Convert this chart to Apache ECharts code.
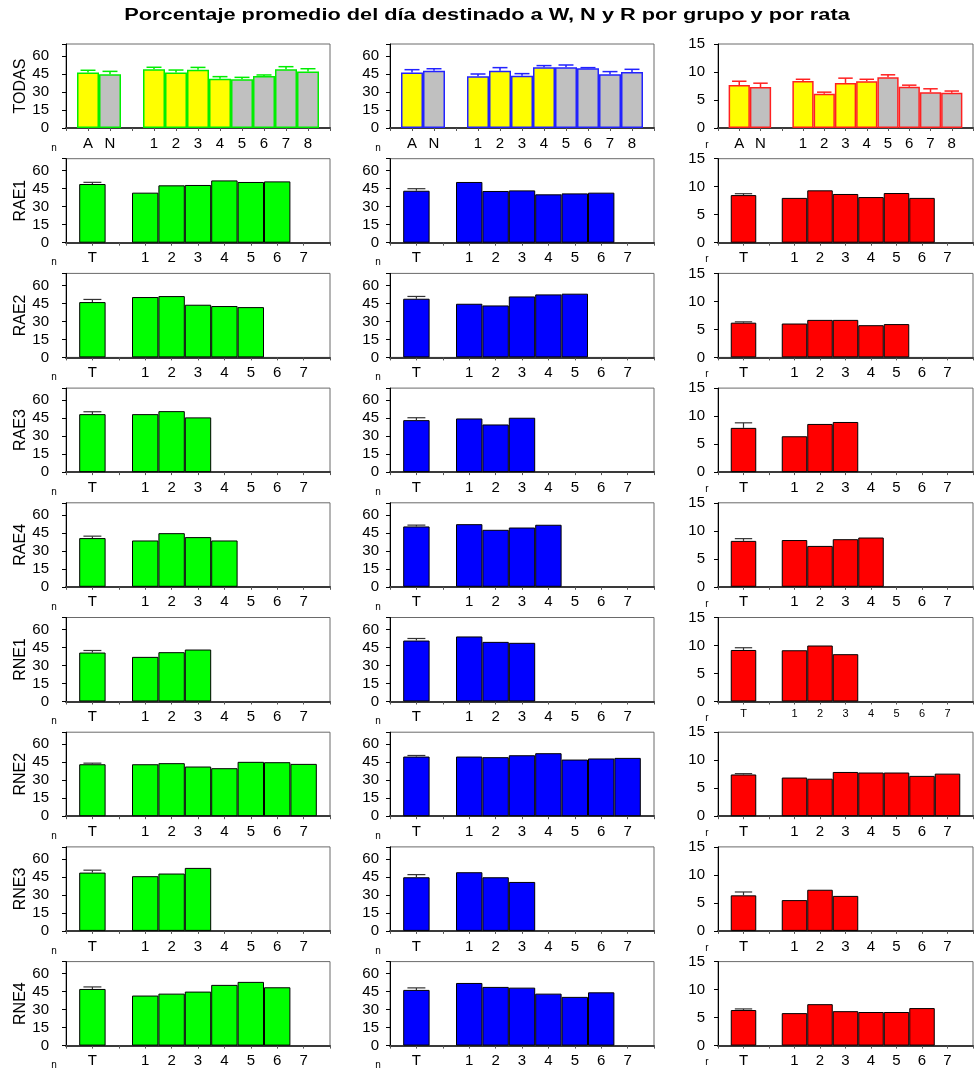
<!DOCTYPE html>
<html>
<head>
<meta charset="utf-8">
<script src="https://cdn.jsdelivr.net/npm/echarts@6/dist/echarts.min.js"></script>
<style>
  html, body { margin: 0; padding: 0; background: #fff; }
  #main { width: 974px; height: 1076px; }
</style>
</head>
<body>
<div id="main"></div>
<script>
// ---- Category labels ----
const rowNames = ['TODAS', 'RAE1', 'RAE2', 'RAE3', 'RAE4', 'RNE1', 'RNE2', 'RNE3', 'RNE4'];
const todasLabels = ['A', 'N', '', '1', '2', '3', '4', '5', '6', '7', '8'];
const ratLabels = ['T', '', '1', '2', '3', '4', '5', '6', '7'];
const todasIsA = [true, false, true, true, true, true, false, false, false, false]; // A, N, 1..8

// ---- W (vigilia) ----
const W_TODAS = [46.2, 44.8, 48.9, 46.2, 48.6, 41.1, 40.6, 43.3, 48.9, 47.0];
const W_TODAS_err = [1.9, 2.4, 1.7, 2.1, 1.9, 1.7, 1.6, 0.9, 2.2, 2.4];
const W_T = [48.9, 46.1, 48.3, 40.6, 40.8, 43.3, 48.6, 47.2];
const W_T_err = [1.4, 2.2, 2.0, 1.6, 1.7, 0.9, 2.0, 1.7];
const W_RAE1 = [41.7, 47.8, 48.1, 51.9, 50.6, 51.1];
const W_RAE2 = [50.3, 51.1, 43.9, 42.8, 41.9];
const W_RAE3 = [48.3, 50.8, 45.6];
const W_RAE4 = [38.6, 44.7, 41.4, 38.6];
const W_RNE1 = [37.2, 41.1, 43.3];
const W_RNE2 = [43.3, 44.2, 41.4, 40.0, 45.3, 45.0, 43.6];
const W_RNE3 = [45.6, 47.8, 52.5];
const W_RNE4 = [41.7, 43.3, 45.0, 50.6, 53.1, 48.6];

// ---- N (sueño no REM) ----
const N_TODAS = [46.2, 47.8, 43.1, 47.8, 43.6, 50.6, 50.6, 49.7, 44.7, 46.7];
const N_TODAS_err = [2.4, 1.6, 1.9, 2.5, 1.7, 1.4, 1.9, 0.6, 2.3, 2.2];
const N_T = [43.3, 48.9, 43.3, 50.3, 50.8, 49.7, 44.7, 46.4];
const N_T_err = [1.7, 1.9, 2.0, 1.1, 1.7, 0.9, 2.2, 1.7];
const N_RAE1 = [50.6, 43.1, 43.6, 40.3, 41.1, 41.7];
const N_RAE2 = [44.7, 43.3, 50.8, 52.5, 53.1];
const N_RAE3 = [44.7, 39.7, 45.3];
const N_RAE4 = [52.2, 47.5, 49.4, 51.7];
const N_RNE1 = [54.2, 49.7, 48.9];
const N_RNE2 = [49.7, 49.2, 50.8, 52.5, 47.2, 48.1, 48.6];
const N_RNE3 = [48.9, 44.7, 40.8];
const N_RNE4 = [52.2, 48.9, 48.3, 43.3, 40.6, 44.4];

// ---- R (sueño REM) ----
const R_TODAS = [7.7, 7.3, 8.4, 6.1, 8.05, 8.35, 9.05, 7.35, 6.4, 6.3];
const R_TODAS_err = [0.65, 0.7, 0.3, 0.3, 0.85, 0.35, 0.45, 0.3, 0.6, 0.3];
const R_T = [8.5, 6.2, 7.9, 8.2, 9.2, 7.45, 6.35, 6.35];
const R_T_err = [0.25, 0.15, 0.9, 0.4, 0.4, 0.15, 0.6, 0.2];
const R_RAE1 = [8.0, 9.35, 8.7, 8.15, 8.87, 8.0];
const R_RAE2 = [6.05, 6.7, 6.7, 5.75, 5.95];
const R_RAE3 = [6.4, 8.6, 8.95];
const R_RAE4 = [8.35, 7.3, 8.5, 8.8];
const R_RNE1 = [9.15, 10.0, 8.45];
const R_RNE2 = [6.9, 6.7, 7.9, 7.8, 7.8, 7.2, 7.6];
const R_RNE3 = [5.5, 7.35, 6.25];
const R_RNE4 = [5.8, 7.4, 6.15, 6.0, 6.0, 6.7];

// ---- Assemble per-variable tables ----
const variables = [
  { todas: W_TODAS, todasErr: W_TODAS_err, T: W_T, Terr: W_T_err,
    groups: [W_RAE1, W_RAE2, W_RAE3, W_RAE4, W_RNE1, W_RNE2, W_RNE3, W_RNE4],
    fill: '#00ff00', edge: '#00ee00', max: 70, step: 15, top: 60, letter: 'n', labelMargin: 17 },
  { todas: N_TODAS, todasErr: N_TODAS_err, T: N_T, Terr: N_T_err,
    groups: [N_RAE1, N_RAE2, N_RAE3, N_RAE4, N_RNE1, N_RNE2, N_RNE3, N_RNE4],
    fill: '#0000ff', edge: '#2222ff', max: 70, step: 15, top: 60, letter: 'n', labelMargin: 11 },
  { todas: R_TODAS, todasErr: R_TODAS_err, T: R_T, Terr: R_T_err,
    groups: [R_RAE1, R_RAE2, R_RAE3, R_RAE4, R_RNE1, R_RNE2, R_RNE3, R_RNE4],
    fill: '#ff0000', edge: '#ff2020', max: 15, step: 5, top: 15, letter: 'r', labelMargin: 13 }
];

// ---- Layout ----
const cols = [ { left: 66, width: 264 }, { left: 390, width: 264 }, { left: 718, width: 255 } ];
const rowTop = i => 44 + 114.7 * i;
const panelH = 84;
const FONT = 'Liberation Sans, Arial, Helvetica, sans-serif';

const grids = [], xAxes = [], yAxes = [], series = [], graphics = [];

graphics.push({
  type: 'text', x: 487, y: 16, scaleX: 1.36,
  style: { text: 'Porcentaje promedio del día destinado a W, N y R por grupo y por rata',
           font: 'bold 16px ' + FONT, fill: '#000', align: 'center', verticalAlign: 'middle' }
});

function errorSeries(k, data, color, width) {
  return {
    type: 'custom', xAxisIndex: k, yAxisIndex: k, z: 5, silent: true,
    data: data,
    renderItem: function (params, api) {
      const x = api.value(0), m = api.value(1), e = api.value(2);
      const pTop = api.coord([x, m + e]);
      const pBase = api.coord([x, m]);
      const hw = api.size([1, 0])[0] * 0.34;
      return {
        type: 'group',
        children: [
          { type: 'line', shape: { x1: pTop[0], y1: pTop[1], x2: pBase[0], y2: pBase[1] },
            style: { stroke: color, lineWidth: width } },
          { type: 'line', shape: { x1: pTop[0] - hw, y1: pTop[1], x2: pTop[0] + hw, y2: pTop[1] },
            style: { stroke: color, lineWidth: width } }
        ]
      };
    }
  };
}

for (let r = 0; r < 9; r++) {
  for (let c = 0; c < 3; c++) {
    const k = grids.length;
    const v = variables[c];
    const col = cols[c];
    const top = rowTop(r);
    const labels = r === 0 ? todasLabels : ratLabels;
    const nSlots = labels.length;
    const slotPx = col.width / (nSlots + 1);

    grids.push({ left: col.left, top: top, width: col.width, height: panelH,
                 show: true, borderColor: '#6a6a6a', borderWidth: 1, outerBoundsMode: 'none' });

    const smallLabels = (r === 5 && c === 2);
    xAxes.push({
      type: 'value', gridIndex: k, min: -1, max: nSlots, interval: 1,
      axisLine: { show: true, onZero: false, lineStyle: { color: '#3a3a3a', width: 2 } },
      axisTick: { show: true, length: 3, lineStyle: { color: '#555' } },
      splitLine: { show: false },
      axisLabel: {
        color: '#000', fontFamily: FONT, fontSize: smallLabels ? 11 : 15, margin: smallLabels ? 7 : 8,
        formatter: val => { const i = Math.round(val); return (i >= 0 && i < nSlots) ? labels[i] : ''; }
      }
    });
    yAxes.push({
      type: 'value', gridIndex: k, min: 0, max: v.max, interval: v.step,
      axisLine: { show: true, onZero: false, lineStyle: { color: '#000', width: 1 } },
      axisTick: { show: true, length: 4, lineStyle: { color: '#000' } },
      splitLine: { show: false },
      axisLabel: { color: '#000', fontFamily: FONT, fontSize: 15, margin: v.labelMargin,
                   formatter: val => val > v.top ? '' : String(val) }
    });

    const bars = [], errs = [];
    if (r === 0) {
      v.todas.forEach((val, j) => {
        const x = j < 2 ? j : j + 1;
        bars.push({ value: [x, val], itemStyle: { color: todasIsA[j] ? '#ffff00' : '#c0c0c0' } });
        errs.push([x, val, v.todasErr[j]]);
      });
      series.push({ type: 'bar', xAxisIndex: k, yAxisIndex: k, barWidth: slotPx, silent: true,
                    itemStyle: { borderColor: v.edge, borderWidth: 1.5 }, data: bars });
      series.push(errorSeries(k, errs, v.edge, 1.5));
    } else {
      const g = r - 1;
      bars.push({ value: [0, v.T[g]] });
      errs.push([0, v.T[g], v.Terr[g]]);
      v.groups[g].forEach((val, j) => bars.push({ value: [j + 2, val] }));
      series.push({ type: 'bar', xAxisIndex: k, yAxisIndex: k, barWidth: slotPx, silent: true,
                    itemStyle: { color: v.fill, borderColor: '#000', borderWidth: 1 }, data: bars });
      series.push(errorSeries(k, errs, '#333', 1.2));
    }

    // small axis letter below the lower-left corner
    graphics.push({
      type: 'text', x: col.left - (c === 2 ? 11 : 12), y: top + panelH + (c === 2 ? 17 : 20),
      style: { text: v.letter, font: '10px ' + FONT, fill: '#000', align: 'center', verticalAlign: 'middle' }
    });
  }
  // row name on the left
  graphics.push({
    type: 'text', x: 21, y: rowTop(r) + panelH / 2, rotation: Math.PI / 2,
    style: { text: rowNames[r], font: '16px ' + FONT, fill: '#000', align: 'center', verticalAlign: 'middle' }
  });
}

const chart = echarts.init(document.getElementById('main'), null, { renderer: 'canvas' });
chart.setOption({
  animation: false,
  backgroundColor: '#fff',
  grid: grids,
  xAxis: xAxes,
  yAxis: yAxes,
  series: series,
  graphic: graphics
});
</script>
</body>
</html>
